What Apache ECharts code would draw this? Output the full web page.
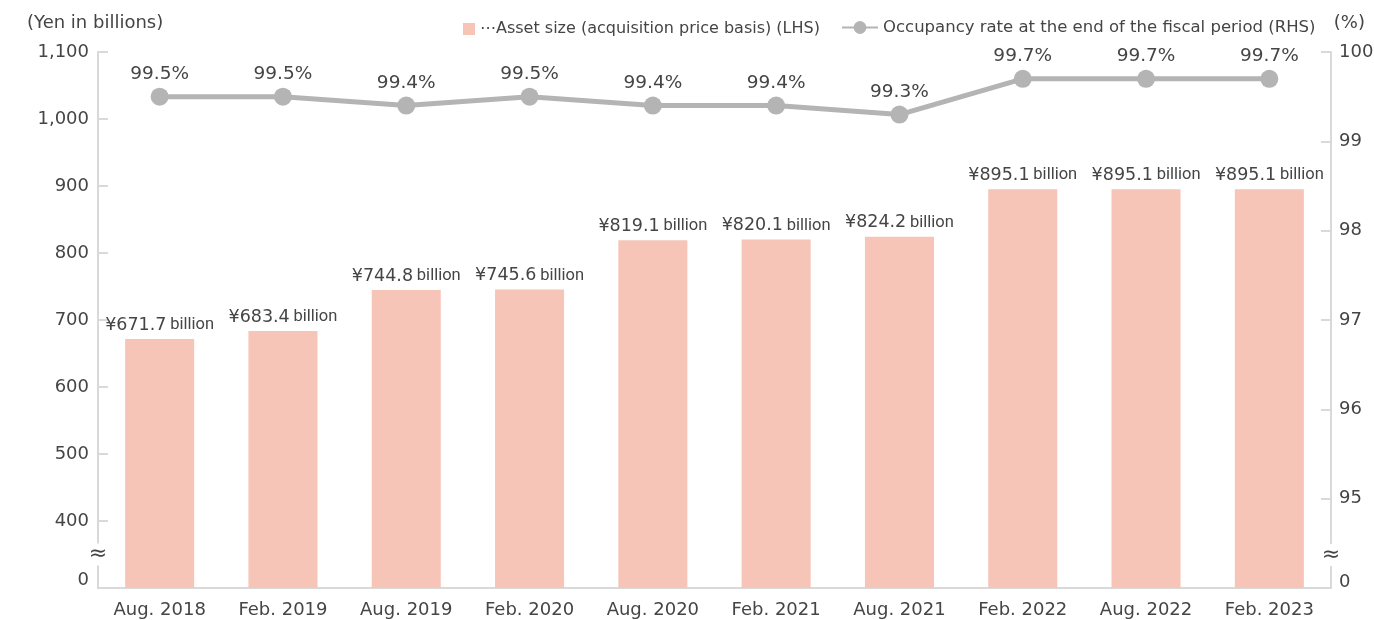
<!DOCTYPE html>
<html>
<head>
<meta charset="utf-8">
<script src="https://cdn.jsdelivr.net/npm/echarts@6/dist/echarts.min.js"></script>
<style>
  html, body { margin: 0; padding: 0; background: #fff; }
  #main { width: 1374px; height: 620px; }
</style>
</head>
<body>
<div id="main"></div>
<script>
// 数据
var periods = ['Aug. 2018', 'Feb. 2019', 'Aug. 2019', 'Feb. 2020', 'Aug. 2020', 'Feb. 2021', 'Aug. 2021', 'Feb. 2022', 'Aug. 2022', 'Feb. 2023'];
var assetSize = [671.7, 683.4, 744.8, 745.6, 819.1, 820.1, 824.2, 895.1, 895.1, 895.1];
var occupancy = [99.5, 99.5, 99.4, 99.5, 99.4, 99.4, 99.3, 99.7, 99.7, 99.7];
var leftTicks = [400, 500, 600, 700, 800, 900, 1000, 1100];
var rightTicks = [95, 96, 97, 98, 99, 100];
var barName = 'Asset size (acquisition price basis) (LHS)';
var lineName = 'Occupancy rate at the end of the fiscal period (RHS)';

var txt = '#454545';
var axisGray = '#d9d9d9';
var font = 'DejaVu Sans';

var chart = echarts.init(document.getElementById('main'));
var option = {
    backgroundColor: '#fff',
    animation: false,
    textStyle: { fontFamily: font, color: txt },
    title: [
        { text: '(Yen in billions)', left: 22, top: 9, textStyle: { fontFamily: font, fontSize: 18, fontWeight: 'normal', color: txt } },
        { text: '(%)', right: 4, top: 9, textStyle: { fontFamily: font, fontSize: 18, fontWeight: 'normal', color: txt } }
    ],
    legend: [
        {
            data: [{ name: barName, icon: 'rect' }], left: 458, top: 16,
            itemWidth: 12, itemHeight: 12,
            formatter: function (n) { return '\u22EF' + n; },
            textStyle: { fontFamily: font, fontSize: 16, color: txt }
        },
        {
            data: [lineName], left: 836, top: 14,
            itemWidth: 36, itemHeight: 16,
            textStyle: { fontFamily: font, fontSize: 16.5, color: txt }
        }
    ],
    grid: { left: 98, right: 43, top: 52, bottom: 32, containLabel: false, outerBoundsMode: 'none' },
    xAxis: {
        type: 'category',
        data: periods,
        axisLine: { lineStyle: { color: axisGray, width: 2 } },
        axisTick: { show: false },
        axisLabel: { fontFamily: font, fontSize: 18, color: txt, margin: 13 }
    },
    yAxis: [
        {
            type: 'value', min: 300, max: 1100, interval: 100,
            splitLine: { show: false },
            axisLine: { show: true, lineStyle: { color: axisGray, width: 2 } },
            axisTick: { show: true, inside: true, length: 10, lineStyle: { color: axisGray, width: 2 }, customValues: leftTicks },
            axisLabel: {
                fontFamily: font, fontSize: 18, color: txt, margin: 9,
                customValues: [312].concat(leftTicks),
                formatter: function (v) { return v < 400 ? '0' : v.toLocaleString('en-US'); }
            }
        },
        {
            type: 'value', min: 94, max: 100, interval: 1,
            splitLine: { show: false },
            axisLine: { show: true, lineStyle: { color: axisGray, width: 2 } },
            axisTick: { show: true, inside: true, length: 10, lineStyle: { color: axisGray, width: 2 }, customValues: rightTicks },
            axisLabel: {
                fontFamily: font, fontSize: 18, color: txt, margin: 8,
                customValues: [94.06].concat(rightTicks),
                formatter: function (v) { return v < 95 ? '0' : String(v); }
            }
        }
    ],
    series: [
        {
            name: barName,
            type: 'bar',
            data: assetSize,
            barWidth: '56%',
            itemStyle: { color: '#f6c5b8' },
            label: {
                show: true, position: 'top', distance: 5,
                formatter: function (p) { return '{n|\u00A5' + p.value.toFixed(1) + '} {b|billion}'; },
                rich: {
                    n: { fontFamily: font, fontSize: 17.5, color: txt },
                    b: { fontFamily: 'Roboto', fontSize: 16.5, color: txt }
                }
            }
        },
        {
            name: lineName,
            type: 'line',
            yAxisIndex: 1,
            data: occupancy,
            symbol: 'circle',
            symbolSize: 18,
            lineStyle: { color: '#b4b4b4', width: 5 },
            itemStyle: { color: '#b4b4b4' },
            label: {
                show: true, position: 'top', distance: 4,
                fontFamily: font, fontSize: 18.5, color: txt,
                formatter: function (p) { return p.value.toFixed(1) + '%'; }
            }
        }
    ]
};
chart.setOption(option);

// 坐标轴断开符号
var yl = chart.convertToPixel({ yAxisIndex: 0 }, 350);
var yr = chart.convertToPixel({ yAxisIndex: 1 }, 94.37);
chart.setOption({
    graphic: [
        { type: 'text', z: 100, x: 98, y: yl, style: { text: '\u2248', fontSize: 22, fontFamily: font, fill: txt, align: 'center', verticalAlign: 'middle', backgroundColor: '#fff', padding: [0, 1] } },
        { type: 'text', z: 100, x: 1331, y: yr, style: { text: '\u2248', fontSize: 22, fontFamily: font, fill: txt, align: 'center', verticalAlign: 'middle', backgroundColor: '#fff', padding: [0, 1] } }
    ]
});
</script>
</body>
</html>
